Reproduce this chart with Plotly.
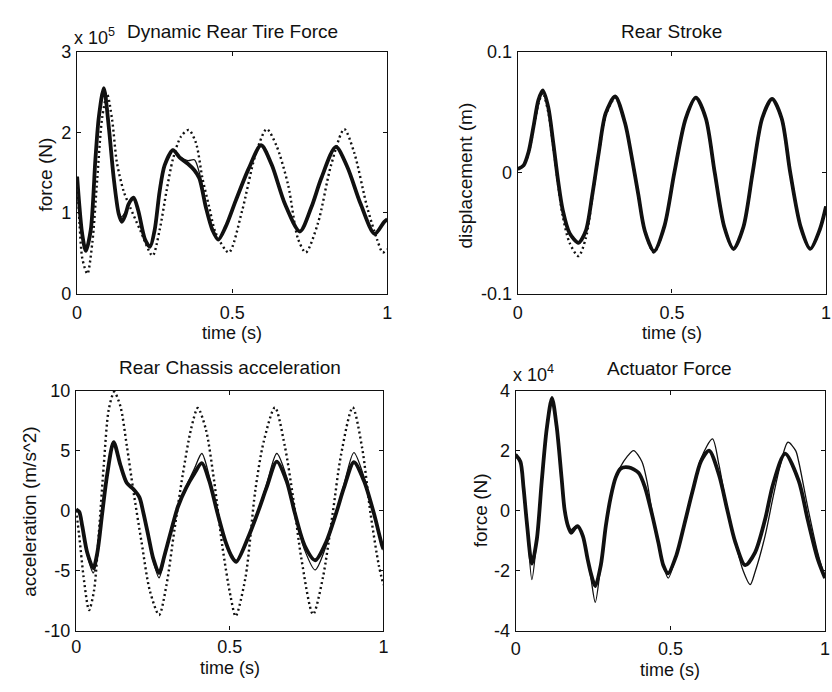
import plotly.graph_objects as go

# ---------------- DATA ----------------
# Dynamic Rear Tire Force (x 10^5 N)
tl_t_thick = [0.000, 0.006, 0.016, 0.028, 0.044, 0.059, 0.070, 0.086, 0.102, 0.118, 0.134, 0.144, 0.155, 0.166,
              0.182, 0.197, 0.219, 0.235, 0.250, 0.266, 0.282, 0.309, 0.330, 0.357, 0.378, 0.394, 0.415, 0.436,
              0.455, 0.479, 0.511, 0.553, 0.593, 0.627, 0.670, 0.718, 0.755, 0.787, 0.834, 0.871, 0.914, 0.959,
              0.990, 1.000]
tl_thick = [1.45, 1.15, 0.75, 0.53, 0.79, 1.67, 2.19, 2.55, 2.07, 1.43, 0.99, 0.89, 0.97, 1.11,
            1.19, 1.03, 0.67, 0.58, 0.79, 1.27, 1.59, 1.78, 1.69, 1.61, 1.53, 1.43, 1.07, 0.79,
            0.67, 0.83, 1.15, 1.55, 1.84, 1.60, 1.11, 0.77, 1.07, 1.43, 1.82, 1.57, 1.11, 0.74,
            0.89, 0.92]
tl_t_solid = [0.000, 0.006, 0.016, 0.028, 0.044, 0.059, 0.070, 0.086, 0.102, 0.118, 0.134, 0.142, 0.155, 0.166,
              0.182, 0.197, 0.219, 0.235, 0.250, 0.266, 0.282, 0.309, 0.330, 0.357, 0.378, 0.394, 0.415, 0.436,
              0.455, 0.479, 0.511, 0.553, 0.593, 0.627, 0.670, 0.718, 0.755, 0.787, 0.834, 0.871, 0.914, 0.959,
              0.990, 1.000]
tl_solid = [1.45, 1.15, 0.75, 0.53, 0.79, 1.67, 2.19, 2.55, 2.07, 1.43, 1.02, 0.95, 1.01, 1.12,
            1.19, 1.03, 0.67, 0.58, 0.79, 1.27, 1.59, 1.79, 1.70, 1.65, 1.66, 1.50, 1.10, 0.79,
            0.67, 0.83, 1.15, 1.55, 1.84, 1.60, 1.11, 0.77, 1.07, 1.43, 1.82, 1.57, 1.11, 0.74,
            0.89, 0.92]
tl_t_dot = [0.000, 0.008, 0.017, 0.033, 0.049, 0.065, 0.081, 0.097, 0.113, 0.128, 0.150, 0.171, 0.203, 0.243,
            0.266, 0.288, 0.309, 0.335, 0.360, 0.383, 0.404, 0.426, 0.447, 0.489, 0.532, 0.574, 0.611, 0.643,
            0.680, 0.712, 0.737, 0.776, 0.819, 0.861, 0.893, 0.935, 0.967, 0.985, 1.000]
tl_dot = [1.45, 0.85, 0.43, 0.245, 0.63, 1.43, 2.19, 2.47, 2.15, 1.63, 1.27, 1.07, 0.79, 0.47,
          0.79, 1.27, 1.67, 1.95, 2.03, 1.87, 1.43, 1.07, 0.75, 0.51, 1.03, 1.71, 2.04, 1.83,
          1.35, 0.68, 0.51, 0.87, 1.60, 2.04, 1.75, 1.07, 0.67, 0.51, 0.55]

# Rear Stroke (m)
tr_t = [0.000, 0.019, 0.035, 0.051, 0.067, 0.081, 0.099, 0.115, 0.131, 0.146, 0.168, 0.197, 0.221, 0.242,
        0.263, 0.285, 0.316, 0.348, 0.369, 0.391, 0.412, 0.442, 0.476, 0.508, 0.545, 0.578, 0.610, 0.639,
        0.670, 0.700, 0.732, 0.762, 0.793, 0.825, 0.856, 0.884, 0.918, 0.949, 0.980, 1.000]
tr_solid = [0.003, 0.006, 0.017, 0.038, 0.060, 0.068, 0.054, 0.025, -0.007, -0.031, -0.050, -0.058, -0.048, -0.018,
            0.017, 0.049, 0.063, 0.041, 0.014, -0.018, -0.048, -0.066, -0.044, 0.000, 0.045, 0.062, 0.045, 0.000,
            -0.045, -0.064, -0.045, 0.000, 0.045, 0.061, 0.045, 0.000, -0.045, -0.063, -0.047, -0.028]
tr_thick = [0.003, 0.006, 0.017, 0.038, 0.060, 0.068, 0.054, 0.025, -0.007, -0.031, -0.050, -0.058, -0.048, -0.018,
            0.017, 0.049, 0.063, 0.041, 0.014, -0.018, -0.048, -0.065, -0.044, 0.000, 0.045, 0.062, 0.045, 0.000,
            -0.045, -0.063, -0.045, 0.000, 0.045, 0.061, 0.045, 0.000, -0.045, -0.063, -0.047, -0.028]
tr_dot = [0.003, 0.006, 0.016, 0.036, 0.057, 0.066, 0.050, 0.022, -0.010, -0.036, -0.058, -0.069, -0.054, -0.020,
          0.016, 0.047, 0.062, 0.041, 0.014, -0.018, -0.048, -0.066, -0.044, 0.000, 0.045, 0.062, 0.045, 0.000,
          -0.045, -0.063, -0.045, 0.000, 0.045, 0.061, 0.045, 0.000, -0.045, -0.063, -0.047, -0.028]

# Rear Chassis acceleration (m/s^2)
bl_t = [0.000, 0.010, 0.020, 0.036, 0.056, 0.069, 0.085, 0.101, 0.122, 0.144, 0.165, 0.186, 0.206, 0.219,
        0.235, 0.251, 0.270, 0.288, 0.310, 0.331, 0.358, 0.385, 0.409, 0.433, 0.460, 0.487, 0.508, 0.521,
        0.562, 0.594, 0.620, 0.653, 0.685, 0.712, 0.744, 0.778, 0.813, 0.846, 0.872, 0.904, 0.937, 0.969,
        0.996, 1.000]
bl_thick = [0.1, -0.1, -1.3, -3.5, -4.8, -3.5, -0.2, 3.0, 5.7, 3.8, 2.3, 1.8, 1.1, -0.2,
            -2.1, -4.0, -5.2, -3.7, -1.6, 0.3, 1.9, 3.1, 3.95, 2.5, -0.2, -2.65, -3.9, -4.27,
            -2.1, 0.04, 1.93, 4.09, 2.47, -0.23, -2.93, -4.14, -2.66, -0.23, 1.93, 4.03, 2.47, -0.23,
            -2.93, -3.2]
bl_solid = [0.1, -0.1, -1.4, -3.7, -5.2, -3.7, -0.2, 3.0, 5.6, 3.8, 2.3, 1.8, 1.1, -0.2,
            -2.2, -4.2, -5.6, -3.9, -1.6, 0.3, 2.0, 3.5, 4.76, 2.9, -0.2, -2.65, -3.9, -4.2,
            -2.1, 0.1, 2.2, 4.76, 2.8, -0.23, -3.3, -4.95, -3.0, -0.23, 2.2, 4.84, 2.8, -0.23,
            -3.0, -3.3]
bl_t_dot = [0.000, 0.010, 0.026, 0.042, 0.058, 0.074, 0.090, 0.106, 0.124, 0.144, 0.165, 0.186, 0.213, 0.240,
            0.270, 0.294, 0.320, 0.347, 0.374, 0.396, 0.422, 0.449, 0.476, 0.503, 0.519, 0.551, 0.583, 0.610,
            0.647, 0.679, 0.706, 0.733, 0.771, 0.803, 0.835, 0.862, 0.900, 0.931, 0.958, 0.985, 1.000]
bl_dot = [0.0, -2.1, -5.9, -8.3, -6.7, -1.85, 3.8, 8.4, 9.9, 8.7, 5.4, 1.7, -2.65, -6.7,
          -8.7, -6.2, -1.6, 3.0, 6.8, 8.55, 6.8, 2.5, -3.0, -7.2, -8.8, -5.6, 1.66, 5.7,
          8.6, 5.4, 1.1, -4.0, -8.65, -5.6, -0.23, 4.63, 8.6, 5.2, -0.23, -4.55, -6.2]

# Actuator Force (x 10^4 N)
br_t_solid = [0.000, 0.015, 0.025, 0.036, 0.052, 0.068, 0.084, 0.100, 0.117, 0.132, 0.148, 0.158, 0.169, 0.179,
              0.190, 0.200, 0.217, 0.232, 0.243, 0.257, 0.275, 0.291, 0.307, 0.323, 0.339, 0.360, 0.381, 0.408,
              0.424, 0.440, 0.461, 0.477, 0.493, 0.519, 0.546, 0.572, 0.599, 0.636, 0.657, 0.684, 0.710, 0.735,
              0.758, 0.774, 0.806, 0.832, 0.855, 0.880, 0.905, 0.915, 0.944, 0.976, 1.000]
br_solid = [1.9, 1.63, 0.77, -0.42, -2.3, -0.96, 0.99, 2.72, 3.8, 2.82, 1.1, 0.02, -0.52, -0.63,
            -0.55, -0.52, -0.85, -1.6, -2.25, -3.06, -1.82, -0.52, 0.45, 1.1, 1.47, 1.8, 2.0, 1.63,
            0.99, 0.02, -1.06, -1.82, -2.25, -1.5, -0.42, 0.66, 1.74, 2.39, 1.53, 0.02, -1.06, -2.0,
            -2.47, -2.04, -0.85, 0.45, 1.5, 2.28, 2.0, 1.63, 0.12, -1.39, -2.25]
br_t_thick = [0.000, 0.015, 0.025, 0.036, 0.052, 0.068, 0.084, 0.100, 0.117, 0.132, 0.148, 0.158, 0.169, 0.179,
              0.190, 0.200, 0.217, 0.232, 0.243, 0.257, 0.275, 0.291, 0.307, 0.323, 0.339, 0.365, 0.397, 0.418,
              0.440, 0.461, 0.477, 0.493, 0.519, 0.546, 0.572, 0.599, 0.625, 0.657, 0.684, 0.710, 0.742, 0.774,
              0.806, 0.832, 0.871, 0.915, 0.944, 0.976, 1.000]
br_thick = [1.85, 1.63, 0.77, -0.42, -1.77, -0.96, 0.99, 2.72, 3.75, 2.82, 1.1, 0.02, -0.52, -0.74,
            -0.6, -0.52, -0.85, -1.6, -2.1, -2.52, -1.82, -0.52, 0.45, 1.1, 1.4, 1.44, 1.26, 0.77,
            -0.1, -1.06, -1.82, -2.09, -1.5, -0.42, 0.66, 1.65, 2.0, 1.2, 0.02, -1.06, -1.82, -1.39,
            -0.3, 0.88, 1.9, 0.99, -0.3, -1.6, -2.25]

x_ticks = [0, 0.5, 1]
x_tick_text = ["0", "0.5", "1"]
tl_yticks = [0, 1, 2, 3]
tl_ytick_text = ["0", "1", "2", "3"]
tr_yticks = [-0.1, 0, 0.1]
tr_ytick_text = ["-0.1", "0", "0.1"]
bl_yticks = [-10, -5, 0, 5, 10]
bl_ytick_text = ["-10", "-5", "0", "5", "10"]
br_yticks = [-4, -2, 0, 2, 4]
br_ytick_text = ["-4", "-2", "0", "2", "4"]

# ---------------- FIGURE ----------------
W, H = 832, 692
FONT = "Liberation Sans, Arial, Helvetica, sans-serif"
INK = "#111111"
FS = 19      # titles / y labels
TFS = 18     # tick labels / x labels


def px(x):
    return x / W


def py(y):
    return 1 - y / H


fig = go.Figure()

thin = dict(color=INK, width=1.3, shape="spline", smoothing=0.8)
thick = dict(color=INK, width=3.8, shape="spline", smoothing=0.8)
dotted = dict(color=INK, width=2.4, dash="2px,3px", shape="spline", smoothing=0.8)


def add(x, y, line, ax):
    fig.add_trace(go.Scatter(x=x, y=y, mode="lines", line=line, xaxis="x" + ax, yaxis="y" + ax,
                             showlegend=False, hoverinfo="skip"))


add(tl_t_dot, tl_dot, dotted, "")
add(tl_t_thick, tl_thick, thick, "")
add(tl_t_solid, tl_solid, thin, "")

add(tr_t, tr_dot, dotted, "2")
add(tr_t, tr_thick, thick, "2")
add(tr_t, tr_solid, thin, "2")

add(bl_t_dot, bl_dot, dotted, "3")
add(bl_t, bl_thick, thick, "3")
add(bl_t, bl_solid, thin, "3")

add(br_t_thick, br_thick, thick, "4")
add(br_t_solid, br_solid, thin, "4")

axis_common = dict(showgrid=False, zeroline=False, showline=True, linecolor=INK, linewidth=1.4,
                   mirror="ticks", ticks="inside", ticklen=4, tickwidth=1, tickcolor=INK,
                   tickfont=dict(family=FONT, size=TFS, color=INK))

boxes = {
    "": (73, 387, 43, 292),
    "2": (519, 831, 43, 292),
    "3": (72, 383, 392, 639),
    "4": (517, 830, 392, 639),
}
xstand = {"": 3, "2": 3, "3": 0, "4": 2}
yconf = {
    "": dict(range=[0, 3], tickvals=tl_yticks, ticktext=tl_ytick_text),
    "2": dict(range=[-0.1, 0.1], tickvals=tr_yticks, ticktext=tr_ytick_text),
    "3": dict(range=[-10, 10], tickvals=bl_yticks, ticktext=bl_ytick_text),
    "4": dict(range=[-4, 4], tickvals=br_yticks, ticktext=br_ytick_text),
}
layout = {}
for k, (x0, x1, y0, y1) in boxes.items():
    xa = dict(axis_common, domain=[px(x0), px(x1)], range=[0, 1], tickvals=x_ticks, ticktext=x_tick_text,
              anchor="y" + k, ticklabelstandoff=xstand[k])
    ya = dict(axis_common, domain=[py(y1), py(y0)], anchor="x" + k, ticklabelstandoff=1, **yconf[k])
    layout["xaxis" + k] = xa
    layout["yaxis" + k] = ya

fig.update_layout(**layout)

anns = []


def text(x, y, s, size=FS, angle=0, xanchor="center"):
    anns.append(dict(x=px(x), y=py(y), xref="paper", yref="paper", text=s, showarrow=False,
                     xanchor=xanchor, yanchor="middle", textangle=angle,
                     font=dict(family=FONT, size=size, color=INK)))


# titles
text(230, 22, "Dynamic Rear Tire Force")
text(675, 22, "Rear Stroke")
text(228, 368, "Rear Chassis acceleration")
text(673, 369, "Actuator Force")
# exponent labels
text(68, 27, "x 10<sup>5</sup>", size=TFS, xanchor="left")
text(512, 374, "x 10<sup>4</sup>", size=TFS, xanchor="left")
# x labels
text(230, 333, "time (s)", size=TFS)
text(675, 333, "time (s)", size=TFS)
text(228, 678, "time (s)", size=TFS)
text(673, 680, "time (s)", size=TFS)
# y labels
text(41, 170, "force (N)", angle=-90)
text(466, 170, "displacement (m)", angle=-90)
text(24, 517, "acceleration (m/s^2)", angle=-90)
text(481, 515, "force (N)", angle=-90)

fig.update_layout(annotations=anns, width=W, height=H, margin=dict(l=0, r=0, t=0, b=0),
                  paper_bgcolor="white", plot_bgcolor="white", showlegend=False,
                  font=dict(family=FONT, color=INK))

fig.write_html("out.html", config={"displayModeBar": False})
